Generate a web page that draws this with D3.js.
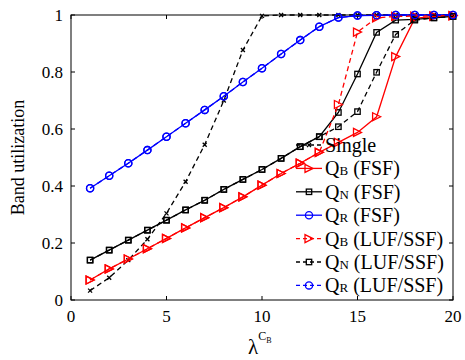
<!DOCTYPE html>
<html>
<head>
<meta charset="utf-8">
<script src="https://cdn.jsdelivr.net/npm/d3@7/dist/d3.min.js"></script>
<style>
  html, body { margin: 0; padding: 0; background: #fff; }
  svg { display: block; font-family: "Liberation Serif", "Times New Roman", serif; }
</style>
</head>
<body>
<svg id="chart" width="465" height="360"></svg>
<script>
// Arrival rate values on the x axis
const lambda = d3.range(1, 21);

// Band utilization per scheme
const singleU  = [0.033, 0.078, 0.14, 0.213, 0.304, 0.415, 0.545, 0.70, 0.877, 0.997, 1, 1, 1, 1, 1, 1, 1, 1, 1, 1];
const qbFSF    = [0.07, 0.109, 0.144, 0.18, 0.216, 0.253, 0.289, 0.324, 0.362, 0.403, 0.444, 0.48, 0.518, 0.553, 0.588, 0.643, 0.854, 0.988, 0.995, 0.997];
const qnFSF    = [0.14, 0.175, 0.21, 0.245, 0.28, 0.316, 0.35, 0.388, 0.423, 0.458, 0.497, 0.538, 0.573, 0.658, 0.793, 0.939, 0.982, 0.985, 0.99, 0.995];
const qrFSF    = [0.392, 0.436, 0.48, 0.526, 0.573, 0.62, 0.667, 0.715, 0.765, 0.813, 0.863, 0.912, 0.959, 0.991, 0.998, 0.999, 1, 1, 1, 1];
const qbLUF    = [0.07, 0.109, 0.144, 0.18, 0.216, 0.253, 0.289, 0.324, 0.362, 0.403, 0.444, 0.48, 0.518, 0.686, 0.94, 0.99, 0.995, 0.996, 0.997, 0.998];
const qnLUF    = [0.14, 0.175, 0.21, 0.245, 0.28, 0.316, 0.35, 0.388, 0.423, 0.458, 0.497, 0.538, 0.573, 0.608, 0.661, 0.799, 0.932, 0.982, 0.99, 0.995];
const qrLUF    = [0.392, 0.436, 0.48, 0.526, 0.573, 0.62, 0.667, 0.715, 0.765, 0.813, 0.863, 0.912, 0.959, 0.991, 0.998, 0.999, 1, 1, 1, 1];

const xTicks = [0, 5, 10, 15, 20];
const yTicks = [0, 0.2, 0.4, 0.6, 0.8, 1];

// name, subscript, suffix, values, colour, dashed, marker
const series = [
  { main: "Single", sub: "", tail: "", values: singleU, color: "#000", dash: true,  marker: "x" },
  { main: "Q", sub: "B", tail: " (FSF)",     values: qbFSF, color: "#ff0000", dash: false, marker: "tri" },
  { main: "Q", sub: "N", tail: " (FSF)",     values: qnFSF, color: "#000",    dash: false, marker: "sq" },
  { main: "Q", sub: "R", tail: " (FSF)",     values: qrFSF, color: "#0000ff", dash: false, marker: "circ" },
  { main: "Q", sub: "B", tail: " (LUF/SSF)", values: qbLUF, color: "#ff0000", dash: true,  marker: "tri" },
  { main: "Q", sub: "N", tail: " (LUF/SSF)", values: qnLUF, color: "#000",    dash: true,  marker: "sq" },
  { main: "Q", sub: "R", tail: " (LUF/SSF)", values: qrLUF, color: "#0000ff", dash: true,  marker: "circ" }
];

const svg = d3.select("#chart");
const m = { left: 71, right: 453, top: 15, bottom: 300 };

const x = d3.scaleLinear().domain([0, 20]).range([m.left, m.right]);
const y = d3.scaleLinear().domain([0, 1]).range([m.bottom, m.top]);

const lw = 1.3;
const DASH = "5,3.5";

function drawMarker(g, type, cx, cy, color) {
  if (type === "circ") {
    g.append("circle").attr("cx", cx).attr("cy", cy).attr("r", 3.6)
      .attr("fill", "none").attr("stroke", color).attr("stroke-width", lw);
  } else if (type === "sq") {
    g.append("rect").attr("x", cx - 2.7).attr("y", cy - 2.7).attr("width", 5.4).attr("height", 5.4)
      .attr("fill", "none").attr("stroke", color).attr("stroke-width", lw);
  } else if (type === "tri") {
    const s = 4;
    g.append("path").attr("d", `M${cx - s},${cy - s}L${cx + s},${cy}L${cx - s},${cy + s}Z`)
      .attr("fill", "none").attr("stroke", color).attr("stroke-width", lw);
  } else if (type === "x") {
    const s = 2;
    g.append("path").attr("d", `M${cx - s},${cy - s}L${cx + s},${cy + s}M${cx - s},${cy + s}L${cx + s},${cy - s}`)
      .attr("fill", "none").attr("stroke", color).attr("stroke-width", lw);
  }
}

// Axes box with inward ticks on all four sides
const axG = svg.append("g");
axG.append("rect").attr("x", m.left).attr("y", m.top)
  .attr("width", m.right - m.left).attr("height", m.bottom - m.top)
  .attr("fill", "none").attr("stroke", "#000").attr("stroke-width", 1);

const tl = 4;
xTicks.forEach(t => {
  axG.append("line").attr("x1", x(t)).attr("x2", x(t)).attr("y1", m.bottom).attr("y2", m.bottom - tl).attr("stroke", "#000");
  axG.append("line").attr("x1", x(t)).attr("x2", x(t)).attr("y1", m.top).attr("y2", m.top + tl).attr("stroke", "#000");
  axG.append("text").attr("x", x(t)).attr("y", 322).attr("text-anchor", "middle")
    .attr("font-size", 17).text(t);
});
yTicks.forEach(t => {
  axG.append("line").attr("x1", m.left).attr("x2", m.left + tl).attr("y1", y(t)).attr("y2", y(t)).attr("stroke", "#000");
  axG.append("line").attr("x1", m.right).attr("x2", m.right - tl).attr("y1", y(t)).attr("y2", y(t)).attr("stroke", "#000");
  axG.append("text").attr("x", 63).attr("y", y(t) + 6).attr("text-anchor", "end")
    .attr("font-size", 17).text(d3.format("~g")(t));
});

// Axis titles
svg.append("text").attr("transform", `translate(24,${(m.top + m.bottom) / 2}) rotate(-90)`)
  .attr("text-anchor", "middle").attr("font-size", 18).text("Band utilization");

const xl = svg.append("text").attr("x", 248).attr("y", 354).attr("font-size", 21);
xl.append("tspan").text("λ");
xl.append("tspan").attr("dy", -14).attr("font-size", 12).text("C");
xl.append("tspan").attr("dy", 3).attr("font-size", 8).text("B");

// Data lines and markers
const line = d3.line().x((d, i) => x(lambda[i])).y(d => y(d));
const plotG = svg.append("g");
series.forEach(s => {
  plotG.append("path").datum(s.values).attr("d", line)
    .attr("fill", "none").attr("stroke", s.color).attr("stroke-width", lw)
    .attr("stroke-dasharray", s.dash ? DASH : null);
  const mg = plotG.append("g");
  s.values.forEach((v, i) => drawMarker(mg, s.marker, x(lambda[i]), y(v), s.color));
});

// Legend (no frame)
const legY0 = 145, legStep = 23.4;
const legG = svg.append("g");
series.forEach((s, i) => {
  const cy = legY0 + i * legStep;
  legG.append("line").attr("x1", 296).attr("x2", 322).attr("y1", cy).attr("y2", cy)
    .attr("stroke", s.color).attr("stroke-width", lw)
    .attr("stroke-dasharray", s.dash ? "4,3" : null);
  drawMarker(legG, s.marker, 309, cy, s.color);
  const t = legG.append("text").attr("x", 325).attr("y", cy + 7).attr("font-size", 20);
  t.append("tspan").text(s.main);
  if (s.sub) {
    t.append("tspan").attr("font-size", 13).text(s.sub);
  }
  t.append("tspan").text(s.tail);
});
</script>
</body>
</html>
